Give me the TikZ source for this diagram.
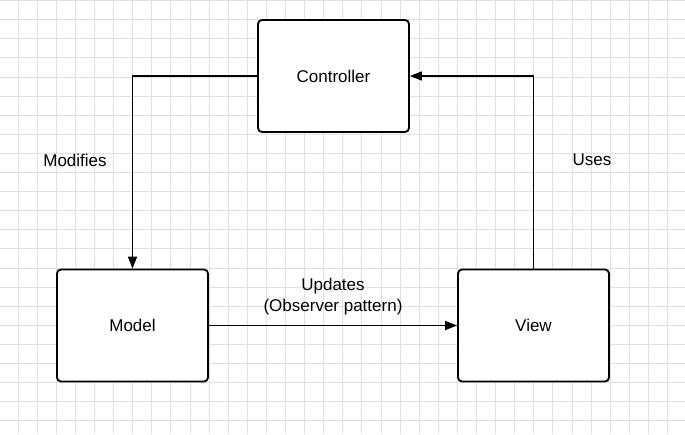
\documentclass[tikz,border=0pt]{standalone}
\usepackage{fontspec}
\setmainfont{Liberation Sans}
\usetikzlibrary{positioning,arrows.meta}

\begin{document}
\begin{tikzpicture}[x=1pt, y=-1pt, >={Triangle[length=12pt,width=9pt]},
  font=\fontsize{17}{21}\selectfont,
  box/.style={draw, line width=1.8pt, rounded corners=4pt, fill=white,
    minimum width=151pt, minimum height=112pt},
  link/.style={->, line width=1.5pt},
  gridline/.style={draw=black!12, line width=0.8pt}]
  \useasboundingbox (0,0) rectangle (685,434);
  \fill[white] (0,0) rectangle (685,434);

  % background grid
  \foreach \i in {0,...,35}
    \draw[gridline] (18+19.1*\i, 0) -- (18+19.1*\i, 434);
  \foreach \j in {0,...,22}
    \draw[gridline] (0, 0.5+19.1*\j) -- (685, 0.5+19.1*\j);

  \node[box] (controller) at (333.5,76) {Controller};
  \node[box] (model) at (132.5,325.5) {Model};
  \node[box] (view) at (533.5,325.5) {View};

  \draw[link] (controller.west) -| (model.north);
  \draw[link] (view.north) |- (controller.east);
  \draw[link] (model) -- (view)
    node[midway, above=6pt, align=center] (updates) {Updates\\(Observer pattern)};

  \node (modifies) at (75,160) {Modifies};
  \node (uses) at (592,160) {Uses};
\end{tikzpicture}
\end{document}
